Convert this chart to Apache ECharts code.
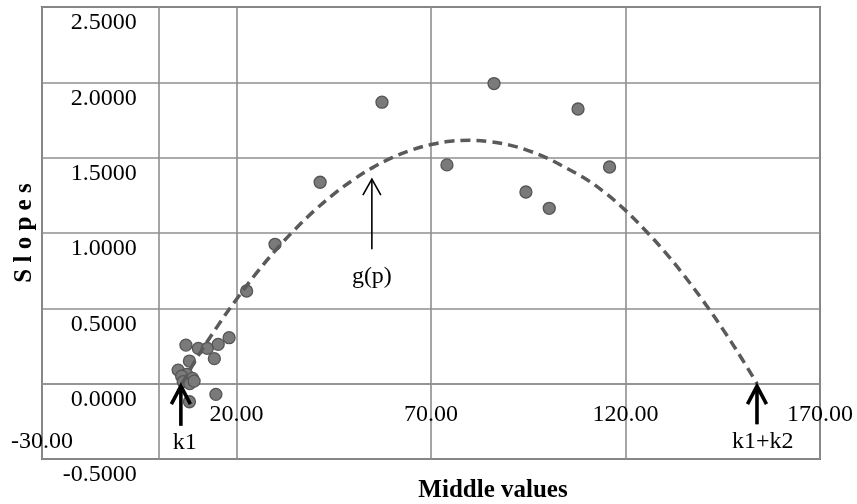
<!DOCTYPE html>
<html><head><meta charset="utf-8">
<script src="https://cdn.jsdelivr.net/npm/echarts@6/dist/echarts.min.js"></script>
<style>html,body{margin:0;padding:0;background:#fff}#c{width:857px;height:504px}</style>
</head><body><div id="c"></div>
<script>
// Observed points (middle value, slope)
const pointX = [57.4, 41.5, 86.2, 107.8, 74.1, 94.4, 100.4, 115.9, 22.6, 29.9, 7.0, 10.2, 12.5, 15.3, 18.1, 14.3, 7.9, 5.0, 7.2, 5.9, 8.7, 6.3, 8.0, 9.1, 14.7, 7.9];
const pointY = [1.868, 1.337, 1.992, 1.823, 1.452, 1.272, 1.164, 1.438, 0.615, 0.925, 0.256, 0.234, 0.234, 0.261, 0.305, 0.166, 0.150, 0.090, 0.062, 0.050, 0.035, 0.013, 0.000, 0.017, -0.071, -0.120];
// Fitted curve g(p)
const curveX = [6, 10, 15, 20, 25, 30, 35, 40, 45, 50, 55, 60, 65, 70, 75, 80, 85, 90, 95, 100, 105, 110, 115, 120, 125, 130, 135, 140, 145, 150, 153.8];
const curveY = [0.0, 0.178, 0.377, 0.560, 0.730, 0.884, 1.023, 1.148, 1.258, 1.353, 1.434, 1.500, 1.551, 1.587, 1.609, 1.615, 1.607, 1.585, 1.547, 1.495, 1.428, 1.355, 1.262, 1.150, 1.020, 0.878, 0.720, 0.548, 0.362, 0.162, 0.0];
// Tick labels
const xTickLabels = ['-30.00', '20.00', '70.00', '120.00', '170.00'];
const yTickLabels = ['-0.5000', '0.0000', '0.5000', '1.0000', '1.5000', '2.0000', '2.5000'];
// Annotation arrows (data coordinates)
const arrowNames = ['k1', 'g(p)', 'k1+k2'];
const arrowX = [5.7, 54.8, 153.8];
const arrowTipY = [-0.016, 1.357, -0.016];
const arrowTailY = [-0.28, 0.892, -0.27];
const arrowLabelX = [6.7, 54.8, 155.3];
const arrowLabelY = [-0.39, 0.71, -0.383];

const FONT = '"Liberation Serif", "Times New Roman", serif';
const W = 857, H = 504;
const G = {left: 42, top: 7, right: 37, bottom: 45};
const xMin = -30, xMax = 170, xInt = 50;
const yMin = -0.5, yMax = 2.5, yInt = 0.5;
// axes cross at zero: pixel offsets of the zero lines from the grid edges
const plotW = W - G.left - G.right, plotH = H - G.top - G.bottom;
const xAxisOffset = -plotH * (0 - yMin) / (yMax - yMin);
const yAxisOffset = -plotW * (0 - xMin) / (xMax - xMin);

const chart = echarts.init(document.getElementById('c'), null, {renderer: 'canvas'});

const scatterData = pointX.map((x, i) => [x, pointY[i]]);
const curveData = curveX.map((x, i) => [x, curveY[i]]);
const arrowData = arrowNames.map((n, i) => [arrowX[i], arrowTipY[i], arrowTailY[i], arrowLabelX[i], arrowLabelY[i], i]);
const arrowStyle = {
  'k1': {w: 3.6, hw: 9.5, hl: 18},
  'g(p)': {w: 1.6, hw: 9, hl: 16},
  'k1+k2': {w: 3.6, hw: 9.5, hl: 18}
};

chart.setOption({
  animation: false,
  backgroundColor: '#fff',
  grid: {left: G.left, top: G.top, right: G.right, bottom: G.bottom, containLabel: false, outerBoundsMode: 'none',
    show: true, borderColor: '#6b6b6b', borderWidth: 2, backgroundColor: 'transparent'},
  xAxis: {
    type: 'value', min: xMin, max: xMax, interval: xInt, position: 'bottom', offset: xAxisOffset,
    axisLine: {show: true, onZero: false, lineStyle: {color: '#8f8f8f', width: 1.6}},
    axisTick: {show: false},
    splitLine: {show: true, lineStyle: {color: '#8f8f8f', width: 1.6}},
    axisLabel: {
      show: true, showMinLabel: true, showMaxLabel: true, margin: 19, hideOverlap: false,
      color: '#000', fontFamily: FONT, fontSize: 24,
      formatter: function (v) {
        const idx = Math.round((v - xMin) / xInt);
        const t = xTickLabels[idx] !== undefined ? xTickLabels[idx] : '';
        return idx === 0 ? '{low|' + t + '}' : t;
      },
      rich: {low: {fontFamily: FONT, fontSize: 24, color: '#000', padding: [27, 0, 0, 0]}}
    }
  },
  yAxis: {
    type: 'value', min: yMin, max: yMax, interval: yInt, position: 'left', offset: yAxisOffset,
    axisLine: {show: true, onZero: false, lineStyle: {color: '#8f8f8f', width: 1.6}},
    axisTick: {show: false},
    splitLine: {show: true, lineStyle: {color: '#8f8f8f', width: 1.6}},
    axisLabel: {
      show: true, showMinLabel: true, showMaxLabel: true, margin: 22, hideOverlap: false,
      align: 'right', verticalAlign: 'top', padding: [4, 0, 0, 0],
      color: '#000', fontFamily: FONT, fontSize: 24,
      formatter: function (v) {
        const idx = Math.round((v - yMin) / yInt);
        return yTickLabels[idx] !== undefined ? yTickLabels[idx] : '';
      }
    }
  },
  series: [
    {
      type: 'scatter', data: scatterData, symbol: 'circle', symbolSize: 12, z: 3,
      itemStyle: {color: '#7a7a7a', borderColor: '#555555', borderWidth: 1.3, opacity: 1}
    },
    {
      type: 'line', data: curveData, smooth: 0.4, showSymbol: false, symbol: 'none', z: 4,
      lineStyle: {color: '#5a5a5a', width: 3.5, type: [10, 6]}
    },
    {
      type: 'custom', data: arrowData, z: 6, clip: false,
      encode: {x: [0, 3], y: [1, 2, 4]},
      renderItem: function (params, api) {
        const i = api.value(5);
        const name = arrowNames[i];
        const st = arrowStyle[name];
        const tip = api.coord([api.value(0), api.value(1)]);
        const tail = api.coord([api.value(0), api.value(2)]);
        const lab = api.coord([api.value(3), api.value(4)]);
        return {
          type: 'group',
          children: [
            {type: 'line', shape: {x1: tail[0], y1: tail[1], x2: tip[0], y2: tip[1] + 1}, style: {stroke: '#000', lineWidth: st.w}},
            {type: 'polyline', shape: {points: [[tip[0] - st.hw, tip[1] + st.hl], [tip[0], tip[1]], [tip[0] + st.hw, tip[1] + st.hl]]}, style: {stroke: '#000', lineWidth: st.w, fill: null, lineJoin: 'miter'}},
            {type: 'text', x: lab[0], y: lab[1], style: {text: name, font: '24px ' + FONT, fill: '#000', align: 'center', verticalAlign: 'middle', textAlign: 'center', textVerticalAlign: 'middle'}}
          ]
        };
      }
    }
  ],
  graphic: [
    {type: 'text', x: 25, y: 233, rotation: Math.PI / 2, style: {text: 'S l o p e s', font: 'bold 25px ' + FONT, fill: '#000', align: 'center', verticalAlign: 'middle', textAlign: 'center', textVerticalAlign: 'middle'}},
    {type: 'text', x: 493, y: 491, style: {text: 'Middle values', font: 'bold 25px ' + FONT, fill: '#000', align: 'center', verticalAlign: 'middle', textAlign: 'center', textVerticalAlign: 'middle'}}
  ]
});
</script>
</body></html>
